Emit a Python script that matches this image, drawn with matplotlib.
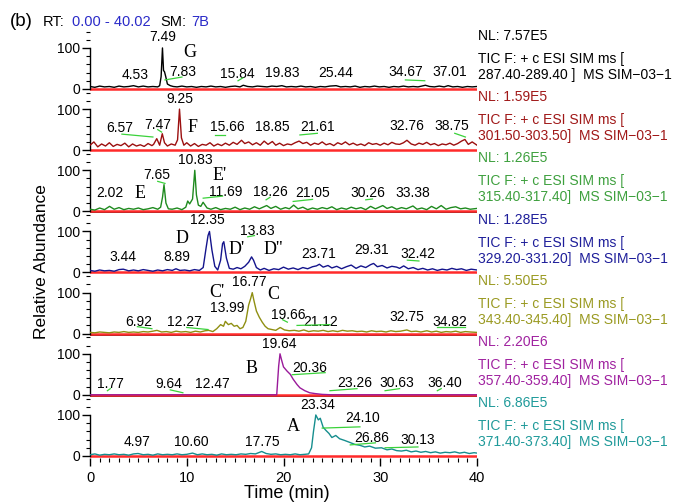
import matplotlib
matplotlib.use('Agg')
import matplotlib.pyplot as plt
from matplotlib.ticker import MultipleLocator

plt.rcParams['font.family'] = 'Liberation Sans'

# ---- traces (time in min, relative abundance in %) ----
t_287 = [0, 0.5, 1, 1.5, 2, 2.5, 3, 3.5, 4, 4.5,
         5, 5.5, 6, 6.5, 7, 7.2, 7.35, 7.49, 7.6, 7.7,
         7.83, 8.0, 8.3, 8.6, 9, 9.5, 10, 10.5, 11, 11.5,
         12, 12.5, 13, 13.5, 14, 14.5, 15, 15.5, 15.84, 16.3,
         16.8, 17.3, 17.8, 18.3, 18.8, 19.3, 19.83, 20.3, 20.8, 21.3,
         21.8, 22.3, 22.8, 23.3, 23.8, 24.3, 24.8, 25.44, 25.9, 26.4,
         26.9, 27.4, 27.9, 28.4, 28.9, 29.4, 29.9, 30.4, 30.9, 31.4,
         31.9, 32.4, 32.9, 33.4, 33.9, 34.67, 35.1, 35.6, 36.1, 36.6,
         37.01, 37.5, 38, 38.5, 39, 39.5, 40]
y_287 = [6, 4, 7, 5, 6, 4, 7, 5, 6, 8,
         5, 7, 5, 6, 5, 8, 30, 100, 45, 42,
         30, 12, 8, 6, 5, 7, 5, 6, 4, 6,
         5, 7, 5, 6, 4, 6, 7, 5, 9, 6,
         5, 7, 6, 5, 7, 6, 8, 5, 6, 5,
         7, 5, 6, 4, 6, 5, 7, 8, 5, 6,
         5, 7, 4, 6, 5, 7, 5, 6, 4, 6,
         5, 7, 5, 6, 5, 9, 6, 5, 7, 5,
         8, 5, 6, 4, 6, 5, 6]

t_302 = [0, 0.4, 0.8, 1.2, 1.6, 2.0, 2.4, 2.8, 3.2, 3.6,
         4.0, 4.4, 4.8, 5.2, 5.6, 6.0, 6.4, 6.57, 6.9, 7.2,
         7.47, 7.7, 8.0, 8.4, 8.8, 9.05, 9.25, 9.45, 9.7, 10.0,
         10.4, 10.8, 11.2, 11.6, 12.0, 12.4, 12.8, 13.2, 13.6, 14.0,
         14.4, 14.8, 15.2, 15.66, 16.0, 16.4, 16.8, 17.2, 17.6, 18.0,
         18.4, 18.85, 19.2, 19.6, 20.0, 20.4, 20.8, 21.2, 21.61, 22.0,
         22.4, 22.8, 23.2, 23.6, 24.0, 24.4, 24.8, 25.2, 25.6, 26.0,
         26.4, 26.8, 27.2, 27.6, 28.0, 28.4, 28.8, 29.2, 29.6, 30.0,
         30.4, 30.8, 31.2, 31.6, 32.0, 32.4, 32.76, 33.2, 33.6, 34.0,
         34.4, 34.8, 35.2, 35.6, 36.0, 36.4, 36.8, 37.2, 37.6, 38.0,
         38.4, 38.75, 39.1, 39.5, 40.0]
y_302 = [12, 20, 8, 15, 10, 18, 9, 14, 11, 17,
         8, 15, 10, 13, 9, 16, 11, 14, 28, 12,
         40, 18, 10, 15, 12, 25, 100, 30, 12, 18,
         10, 16, 9, 14, 12, 18, 10, 15, 11, 17,
         12, 19, 14, 24, 16, 20, 13, 18, 12, 22,
         14, 21, 12, 17, 11, 15, 13, 18, 22, 16,
         19, 12, 17, 14, 20, 13, 16, 11, 18, 14,
         20, 13, 17, 12, 15, 11, 18, 14, 16, 12,
         17, 13, 19, 15, 14, 18, 24, 15, 12, 17,
         14, 19, 13, 16, 11, 15, 13, 17, 12, 16,
         22, 26, 14, 20, 12]

t_316 = [0, 0.5, 1, 1.5, 2.02, 2.5, 3, 3.5, 4, 4.5,
         5, 5.5, 6, 6.5, 7.0, 7.3, 7.5, 7.65, 7.85, 8.1,
         8.5, 9, 9.5, 9.9, 10.1, 10.3, 10.6, 10.83, 11.0, 11.2,
         11.45, 11.69, 12.1, 12.5, 13, 13.5, 14, 14.5, 15, 15.5,
         16, 16.5, 17, 17.5, 18.26, 18.7, 19.2, 19.7, 20.2, 20.6,
         21.05, 21.5, 22, 22.5, 23, 23.5, 24, 24.5, 25, 25.5,
         26, 26.5, 27, 27.5, 28, 28.5, 29, 29.5, 30.26, 30.7,
         31.2, 31.7, 32.2, 32.7, 33.38, 33.8, 34.3, 34.8, 35.3, 35.8,
         36.3, 36.8, 37.3, 37.8, 38.3, 38.8, 39.3, 40]
y_316 = [5, 3, 8, 4, 12, 5, 9, 4, 7, 5,
         8, 4, 6, 9, 5, 10, 35, 65, 20, 6,
         5, 8, 4, 10, 25, 18, 30, 100, 40, 15,
         12, 22, 8, 5, 9, 4, 7, 5, 10, 4,
         8, 5, 11, 6, 14, 7, 12, 5, 9, 6,
         15, 6, 10, 4, 8, 5, 9, 6, 11, 4,
         8, 5, 10, 6, 9, 4, 12, 6, 14, 7,
         11, 5, 9, 6, 13, 5, 8, 4, 12, 6,
         14, 5, 9, 11, 6, 8, 5, 7]

t_330 = [0, 0.5, 1, 1.5, 2, 2.5, 3, 3.44, 4, 4.5,
         5, 5.5, 6, 6.5, 7, 7.5, 8, 8.5, 8.89, 9.3,
         9.8, 10.3, 10.8, 11.3, 11.7, 12.0, 12.2, 12.35, 12.6, 12.9,
         13.2, 13.5, 13.7, 13.83, 14.1, 14.4, 14.8, 15.2, 15.6, 16.0,
         16.4, 16.7, 16.9, 17.2, 17.6, 18.0, 18.5, 19.0, 19.5, 20.0,
         20.5, 21.0, 21.5, 22.0, 22.5, 23.0, 23.4, 23.71, 24.1, 24.6,
         25.0, 25.5, 26.0, 26.5, 27.0, 27.5, 28.0, 28.5, 29.0, 29.31,
         29.7, 30.2, 30.7, 31.2, 31.7, 32.0, 32.42, 32.9, 33.4, 33.9,
         34.4, 34.9, 35.4, 35.9, 36.4, 36.9, 37.4, 37.9, 38.4, 38.9,
         39.4, 40]
y_330 = [5, 3, 6, 4, 5, 3, 7, 8, 4, 6,
         4, 7, 5, 3, 6, 4, 7, 5, 9, 5,
         6, 4, 7, 5, 12, 60, 90, 100, 55, 15,
         6, 30, 70, 75, 35, 10, 8, 12, 9, 15,
         25, 38, 30, 12, 6, 10, 5, 9, 7, 13,
         8, 11, 7, 12, 9, 14, 16, 20, 13, 17,
         11, 15, 9, 14, 18, 10, 16, 12, 19, 22,
         14, 17, 11, 15, 13, 10, 16, 9, 12, 7,
         10, 6, 9, 5, 8, 6, 10, 7, 9, 5,
         8, 6]

t_344 = [0, 0.5, 1, 1.5, 2, 2.5, 3, 3.5, 4, 4.5,
         5, 5.5, 6, 6.5, 6.92, 7.4, 7.9, 8.4, 8.9, 9.4,
         9.9, 10.4, 10.9, 11.4, 11.9, 12.27, 12.7, 13.1, 13.5, 13.8,
         13.99, 14.3, 14.6, 14.9, 15.2, 15.5, 15.8, 16.1, 16.4, 16.6,
         16.77, 16.95, 17.2, 17.5, 17.8, 18.1, 18.4, 18.8, 19.2, 19.66,
         20.1, 20.6, 21.12, 21.6, 22.1, 22.6, 23.1, 23.6, 24.1, 24.6,
         25.1, 25.6, 26.1, 26.6, 27.1, 27.6, 28.1, 28.6, 29.1, 29.6,
         30.1, 30.6, 31.1, 31.6, 32.1, 32.75, 33.2, 33.7, 34.2, 34.82,
         35.3, 35.8, 36.3, 36.8, 37.3, 37.8, 38.3, 38.8, 39.3, 40]
y_344 = [3, 2, 4, 3, 2, 4, 3, 5, 3, 4,
         3, 5, 4, 6, 8, 4, 5, 3, 6, 4,
         5, 3, 6, 4, 7, 8, 5, 12, 22, 18,
         30, 22, 25, 18, 20, 12, 15, 30, 70, 85,
         100, 80, 55, 40, 28, 18, 12, 10, 8, 15,
         9, 7, 8, 6, 9, 5, 7, 6, 8, 5,
         7, 5, 8, 6, 7, 5, 6, 4, 7, 5,
         6, 4, 7, 5, 6, 9, 5, 6, 4, 7,
         4, 6, 3, 5, 4, 6, 3, 5, 4, 3]

t_358 = [0, 19.3, 19.5, 19.64, 19.8, 20.0, 20.36, 20.7, 21.0, 21.4,
         21.7, 22.2, 22.7, 23.26, 24, 25, 40]
y_358 = [0, 0, 70, 100, 85, 68, 58, 50, 38, 25,
         17, 10, 5, 3, 1, 0, 0]

t_372 = [0, 0.5, 1, 1.5, 2, 2.5, 3, 3.5, 4, 4.5,
         4.97, 5.5, 6, 6.5, 7, 7.5, 8, 8.5, 9, 9.5,
         10, 10.6, 11.1, 11.6, 12.1, 12.6, 13.1, 13.6, 14.1, 14.6,
         15.1, 15.6, 16.1, 16.6, 17.1, 17.75, 18.2, 18.7, 19.2, 19.7,
         20.2, 20.7, 21.2, 21.7, 22.2, 22.6, 22.9, 23.1, 23.34, 23.6,
         23.8, 24.1, 24.4, 24.7, 25.0, 25.4, 25.8, 26.3, 26.86, 27.4,
         27.9, 28.4, 28.9, 29.5, 30.13, 30.7, 31.2, 31.7, 32.2, 32.7,
         33.2, 33.7, 34.2, 34.7, 35.2, 35.7, 36.2, 36.7, 37.2, 37.7,
         38.2, 38.7, 39.2, 39.7, 40]
y_372 = [3, 5, 2, 4, 3, 5, 3, 4, 2, 5,
         6, 3, 4, 2, 5, 3, 4, 3, 5, 3,
         4, 7, 3, 5, 3, 4, 2, 5, 3, 4,
         3, 5, 4, 6, 5, 11, 6, 4, 5, 3,
         4, 3, 5, 3, 4, 5, 20, 60, 100, 88,
         92, 70, 62, 55, 45, 50, 42, 38, 33, 28,
         26, 22, 24, 19, 20, 15, 17, 13, 12, 14,
         10, 12, 9, 11, 8, 10, 7, 9, 8, 10,
         7, 9, 6, 8, 7]

nl_values = ['7.57E5', '1.59E5', '1.26E5', '1.28E5', '5.50E5', '2.20E6', '6.86E5']
mass_ranges = ['287.40-289.40 ]', '301.50-303.50]', '315.40-317.40]',
               '329.20-331.20]', '343.40-345.40]', '357.40-359.40]',
               '371.40-373.40]']

# peak labels: (text, time, height)
labels_287 = [('7.49', 7.55, 127), ('4.53', 4.65, 34), ('7.83', 9.6, 41),
              ('15.84', 15.2, 37), ('19.83', 19.9, 39), ('25.44', 25.4, 39),
              ('34.67', 32.6, 41), ('37.01', 37.2, 41)]
labels_302 = [('9.25', 9.3, 124), ('6.57', 3.1, 54), ('7.47', 7.0, 61),
              ('15.66', 14.2, 56), ('18.85', 18.8, 56), ('21.61', 23.5, 56),
              ('32.76', 32.8, 59), ('38.75', 37.4, 59)]
labels_316 = [('10.83', 10.85, 124), ('7.65', 6.9, 88), ('2.02', 2.1, 44),
              ('11.69', 14.0, 46), ('18.26', 18.6, 46), ('21.05', 23.0, 44),
              ('30.26', 28.7, 44), ('33.38', 33.4, 44)]
labels_330 = [('12.35', 12.1, 127), ('8.89', 9.0, 37), ('3.44', 3.4, 37),
              ('13.83', 17.3, 102), ('23.71', 23.6, 46), ('29.31', 29.1, 54),
              ('32.42', 33.9, 46)]
labels_344 = [('16.77', 16.5, 127), ('13.99', 14.2, 62), ('6.92', 5.0, 29),
              ('12.27', 9.8, 29), ('19.66', 20.5, 46), ('21.12', 23.8, 29),
              ('32.75', 32.8, 41), ('34.82', 37.2, 29)]
labels_358 = [('19.64', 19.6, 124), ('20.36', 22.7, 66), ('1.77', 2.1, 27),
              ('9.64', 8.1, 27), ('12.47', 12.6, 27), ('23.26', 27.4, 29),
              ('30.63', 31.7, 29), ('36.40', 36.7, 29)]
labels_372 = [('23.34', 23.5, 124), ('4.97', 4.9, 34), ('10.60', 10.5, 34),
              ('17.75', 17.8, 34), ('24.10', 28.2, 93), ('26.86', 29.1, 44),
              ('30.13', 33.9, 39)]

# compound letters: (text, time, height)
letters_287 = [('G', 10.3, 90)]
letters_302 = [('F', 10.6, 54)]
letters_316 = [('E', 5.2, 44), ("E'", 13.4, 88)]
letters_330 = [('D', 9.5, 83), ("D'", 15.2, 56), ("D''", 18.9, 56)]
letters_344 = [("C'", 13.1, 101), ('C', 18.9, 95)]
letters_358 = [('B', 16.7, 63)]
letters_372 = [('A', 21.0, 71)]

# green leader lines: (t0, y0, t1, y1)
leaders_287 = [(7.75, 22, 9.5, 29), (15.3, 20, 15.8, 27), (32.6, 22, 34.6, 20)]
leaders_302 = [(3.3, 39, 6.5, 32), (12.9, 37, 14.0, 37), (21.7, 37, 23.5, 41),
               (37.7, 41, 38.8, 32), (7.0, 50, 7.4, 44)]
leaders_316 = [(7.0, 73, 7.75, 68), (11.7, 32, 13.7, 37), (21.0, 24, 23.0, 29),
               (18.2, 28, 18.6, 34), (28.5, 28, 29.2, 30)]
leaders_330 = [(16.3, 87, 17.0, 90), (32.8, 30, 34.0, 28)]
leaders_344 = [(4.9, 17, 6.4, 12), (10.0, 15, 12.2, 10), (21.4, 20, 24.8, 22),
               (19.9, 34, 20.4, 28), (35.9, 15, 38.8, 15)]
leaders_358 = [(20.9, 49, 24.3, 54), (8.3, 12, 9.6, 5), (1.8, 10, 2.1, 15),
               (24.8, 10, 27.6, 15), (30.5, 10, 32.0, 15), (35.9, 10, 36.3, 15)]
leaders_372 = [(24.0, 68, 27.9, 71), (26.9, 27, 29.5, 32), (30.5, 20, 33.9, 22)]

panels = [
    (t_287, y_287, '#000000', '#000000', labels_287, letters_287, leaders_287, False),
    (t_302, y_302, '#9b0f0f', '#a01818', labels_302, letters_302, leaders_302, False),
    (t_316, y_316, '#1e8a1e', '#3ea03e', labels_316, letters_316, leaders_316, True),
    (t_330, y_330, '#14148c', '#1e1e9a', labels_330, letters_330, leaders_330, False),
    (t_344, y_344, '#8f8f12', '#9a9a22', labels_344, letters_344, leaders_344, True),
    (t_358, y_358, '#9a1a9a', '#a022a0', labels_358, letters_358, leaders_358, True),
    (t_372, y_372, '#168e8e', '#1f9a9a', labels_372, letters_372, leaders_372, False),
]

W, H = 676, 504
fig = plt.figure(figsize=(W / 100, H / 100), dpi=100)

for i, (t, y, col, tcol, labs, lets, leads, dark_base) in enumerate(panels):
    z = 89 + 61.17 * i   # pixel row of the zero line
    ax = fig.add_axes([90 / W, 1 - (z + 2) / H, 387 / W, 61.5 / H])
    ax.patch.set_visible(False)
    ax.set_xlim(0, 40)
    ax.set_ylim(-5, 145)

    ax.plot(t, y, color=col, lw=1.0, zorder=3)
    ax.axhline(0, color='#ff2a2a', lw=1.8, zorder=2)
    if dark_base:
        ax.axhline(-3.5, color='#000000', lw=1.2, zorder=1)

    for txt, tx, ty in labs:
        ax.text(tx, ty, txt, ha='center', va='center', fontsize=10, clip_on=False)
    for txt, tx, ty in lets:
        ax.text(tx, ty, txt, ha='center', va='center', fontsize=13,
                family='Liberation Serif', clip_on=False)
    for x0, y0, x1, y1 in leads:
        ax.plot([x0, x1], [y0, y1], color='#3ad23a', lw=0.9, zorder=4, clip_on=False)

    for s in ['top', 'right', 'bottom']:
        ax.spines[s].set_visible(False)
    ax.spines['left'].set_bounds(0, 100)
    ax.spines['left'].set_linewidth(1.0)
    ax.set_yticks([0, 100])
    ax.yaxis.set_minor_locator(MultipleLocator(20))
    ax.tick_params(axis='y', which='major', length=6, width=1, labelsize=10, pad=1)
    ax.tick_params(axis='y', which='minor', length=3, width=0.8)

    if i == len(panels) - 1:
        ax.set_xticks([0, 10, 20, 30, 40])
        ax.xaxis.set_minor_locator(MultipleLocator(1))
        ax.tick_params(axis='x', which='major', length=6, width=1, labelsize=10.5, pad=3)
        ax.tick_params(axis='x', which='minor', length=3, width=0.8)
    else:
        ax.set_xticks([])

    # right-hand header
    fig.text(478 / W, 1 - (z - 53) / H, 'NL: ' + nl_values[i], color=tcol,
             fontsize=10, va='center')
    fig.text(478 / W, 1 - (z - 30) / H, 'TIC F: + c ESI SIM ms [', color=tcol,
             fontsize=10, va='center')
    fig.text(478 / W, 1 - (z - 14) / H, mass_ranges[i] + '  MS SIM\u221203\u22121',
             color=tcol, fontsize=10, va='center')

fig.text(10 / W, 1 - 21 / H, '(b)', fontsize=13.5, va='center')
fig.text(43 / W, 1 - 22 / H, 'RT:', fontsize=10.5, va='center')
fig.text(72 / W, 1 - 22 / H, '0.00 - 40.02', fontsize=10.5, va='center', color='#2a2ac8')
fig.text(160 / W, 1 - 22 / H, 'SM:', fontsize=10.5, va='center')
fig.text(191 / W, 1 - 22 / H, '7B', fontsize=10.5, va='center', color='#2a2ac8')

fig.text(42 / W, 1 - 262 / H, 'Relative Abundance', rotation=90, fontsize=12.5,
         ha='center', va='center')
fig.text(287 / W, 1 - 494 / H, 'Time (min)', fontsize=13, ha='center', va='center')

fig.savefig('out.png', dpi=100)
